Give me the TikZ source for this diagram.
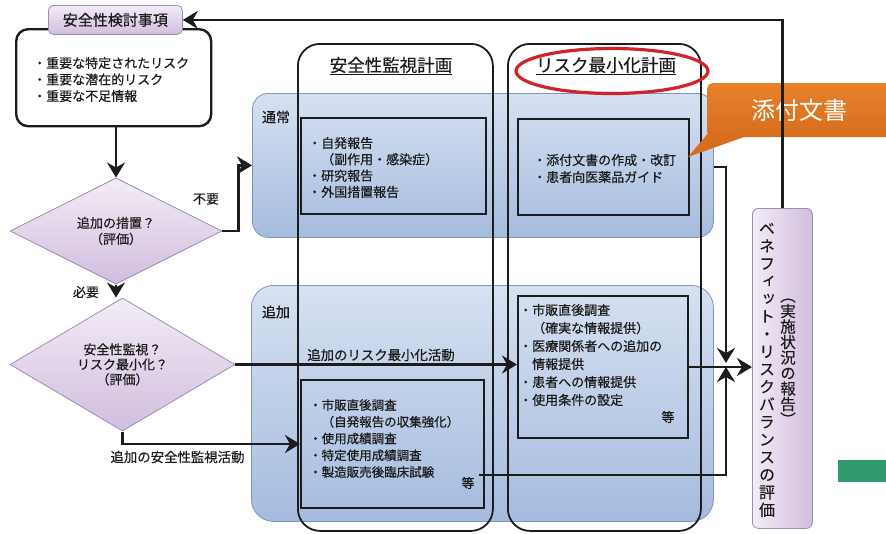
\documentclass[tikz,border=0pt]{standalone}
\usepackage{fontspec}
\setmainfont[FakeBold=0.5]{Noto Sans CJK JP}
\newfontfamily\vfont[RawFeature={+vert},FakeBold=0.3]{Noto Sans CJK JP}
\newfontfamily\lightfont{Noto Sans CJK JP}
\usetikzlibrary{shapes.geometric,arrows.meta,calc}
\definecolor{bandtop}{HTML}{D6E1F2}
\definecolor{bandbot}{HTML}{A5BBDE}
\definecolor{bandline}{HTML}{8294BC}
\definecolor{lavtop}{HTML}{F3ECF6}
\definecolor{lavbot}{HTML}{D1BDDE}
\definecolor{lavline}{HTML}{9B90B2}
\definecolor{orangeA}{HTML}{E6822C}
\definecolor{orangeB}{HTML}{D86D1E}
\definecolor{ellred}{HTML}{D2232A}
\definecolor{greenbar}{HTML}{2E9A6E}
\definecolor{ink}{HTML}{1C1C1C}
\begin{document}
\begin{tikzpicture}[x=1pt,y=-1pt,
  conn/.style={line width=2.6pt, draw=ink},
  arr/.style={conn, -{Stealth[length=15pt,width=18pt,inset=5pt]}},
  nw/.style={anchor=north west, inner sep=0pt},
  band/.style={nw, draw=bandline, line width=0.8pt, top color=bandtop, bottom color=bandbot},
  colbox/.style={nw, draw=ink, line width=1.8pt, rounded corners=22pt},
  inbox/.style={nw, draw=ink, line width=2pt},
  lavbox/.style={draw=lavline, line width=0.8pt, top color=lavtop, bottom color=lavbot, text=ink},
  txt/.style={inner sep=0pt, text=ink, align=left, anchor=west, font=\fontsize{13}{16.5}\selectfont},
  lbl/.style={inner sep=0pt, text=ink, font=\fontsize{13}{16}\selectfont},
  dia/.style={diamond, lavbox, inner sep=0pt, align=center, font=\fontsize{13}{16}\selectfont}
]
\useasboundingbox (0,0) rectangle (886,533);

% bands
\node[band, rounded corners=16pt, minimum width=461pt, minimum height=144pt] (nb) at (252,93) {};
\node[band, rounded corners=22pt, minimum width=462pt, minimum height=236pt] (ab) at (251,285) {};
\node[lbl, font=\fontsize{14}{16}\selectfont] (nbl) at (276,117) {通常};
\node[lbl, font=\fontsize{14}{16}\selectfont] (abl) at (276,312) {追加};

% columns
\node[colbox, minimum width=195pt, minimum height=487pt] (c1) at (297,43) {};
\node[colbox, minimum width=193pt, minimum height=487pt] (c2) at (507,43) {};
\node[lbl, font=\fontsize{17.5}{20}\selectfont] (t1) at (391,66) {\underline{安全性監視計画}};
\node[lbl, font=\fontsize{17.5}{20}\selectfont] (t2) at (606,66) {\underline{リスク最小化計画}};
\node[ellipse, draw=ellred, line width=3.2pt, minimum width=192pt, minimum height=45pt] (el) at (612,71) {};

% inner boxes
\node[inbox, minimum width=185pt, minimum height=96pt] (a1) at (300,117) {};
\node[inbox, minimum width=171pt, minimum height=96pt] (b1) at (517,118) {};
\node[inbox, minimum width=183pt, minimum height=128pt] (a2) at (300,379) {};
\node[inbox, minimum width=170pt, minimum height=142pt] (b2) at (517,295) {};

\node[txt, font=\fontsize{13}{16.3}\selectfont] (a1t) at (308,167.5) {・自発報告\\　（副作用・感染症）\\・研究報告\\・外国措置報告};
\node[txt, font=\fontsize{13}{17}\selectfont] (b1t) at (533,168.5) {・添付文書の作成・改訂\\・患者向医薬品ガイド};
\node[txt, font=\fontsize{12.5}{16.75}\selectfont] (a2t) at (309,438.5) {・市販直後調査\\　（自発報告の収集強化）\\・使用成績調査\\・特定使用成績調査\\・製造販売後臨床試験};
\node[lbl] (a2e) at (468,483) {等};
\node[txt, font=\fontsize{13}{18}\selectfont] (b2t) at (519,355) {・市販直後調査\\　（確実な情報提供）\\・医療関係者への追加の\\　情報提供\\・患者への情報提供\\・使用条件の設定};
\node[lbl] (b2e) at (668,417) {等};

% left flow
\node[nw, draw=ink, line width=2.4pt, rounded corners=12pt, fill=white, minimum width=195pt, minimum height=97pt] (bigbox) at (15,28) {};
\node[txt] (bigt) at (33,79.5) {・重要な特定されたリスク\\・重要な潜在的リスク\\・重要な不足情報};
\node[lavbox, anchor=north west, rounded corners=5pt, minimum width=134pt, minimum height=29pt, inner sep=0pt, font=\fontsize{15}{18}\selectfont] (title) at (48,5) {安全性検討事項};

\node[dia, minimum width=212pt, minimum height=82pt] (d1) at (116,231) {追加の措置？\\（評価）};
\node[dia, minimum width=225pt, minimum height=83pt, font=\fontsize{13}{15}\selectfont] (d2) at (122.5,364.5) {安全性監視？\\リスク最小化？\\（評価）};

\node[lbl] (l1) at (206,199) {不要};
\node[lbl] (l2) at (86,292) {必要};
\node[lbl, font=\fontsize{13.4}{16}\selectfont] (l3) at (381,355) {追加のリスク最小化活動};
\node[lbl, font=\fontsize{13.4}{16}\selectfont] (l4) at (177.5,457) {追加の安全性監視活動};

% benefit-risk box
\node[nw, draw=lavline, line width=0.8pt, rounded corners=6pt, left color=lavtop, right color=lavbot, minimum width=60pt, minimum height=320pt] (br) at (752,208) {};
\node[inner sep=0pt, align=center, text=ink, font=\vfont\fontsize{16}{17.6}\selectfont] (brt1) at (767,370) {ベ\\ネ\\フ\\ィ\\ッ\\ト\\・\\リ\\ス\\ク\\バ\\ラ\\ン\\ス\\の\\評\\価};
\node[inner sep=0pt, align=center, text=ink, font=\vfont\fontsize{15.5}{15.5}\selectfont] (brt2) at (788,362) {︵\\実\\施\\状\\況\\の\\報\\告\\︶};

% callout
\node[nw, rounded corners=5pt, top color=orangeA, bottom color=orangeB, minimum width=195pt, minimum height=54pt] (cb) at (707,83) {};
\fill[orangeB] (710,131) -- (744,137) -- (688,157) -- cycle;
\node[inner sep=0pt, text=white, font=\lightfont\fontsize{24}{28}\selectfont] (cbt) at (799,110) {添付文書};

% green bar
\fill[greenbar] (838,460) rectangle (890,482);

% connectors
\coordinate (J) at (726,365);
\coordinate (a2o) at ($(a2.east)+(-6,31)$);
\draw[arr] (d1.north |- bigbox.south) -- (d1.north);
\draw[arr] (d1.east) -- ++(16,0) |- (nb.west);
\draw[arr] (d1.south) -- (d1.south |- d2.north);
\draw[arr] (d2.east) -- (d2.east -| b2.west);
\draw[arr] (d2.south) |- (a2.west);
\draw[arr] (nb.east |- b1.east) -| ([yshift=2pt]J);
\draw[arr] (a2o) -| ([yshift=-2pt]J);
\draw[arr] (b2.east) -- (b2.east -| br.west);
\draw[arr] (br.north) |- (title.east);
\end{tikzpicture}
\end{document}
